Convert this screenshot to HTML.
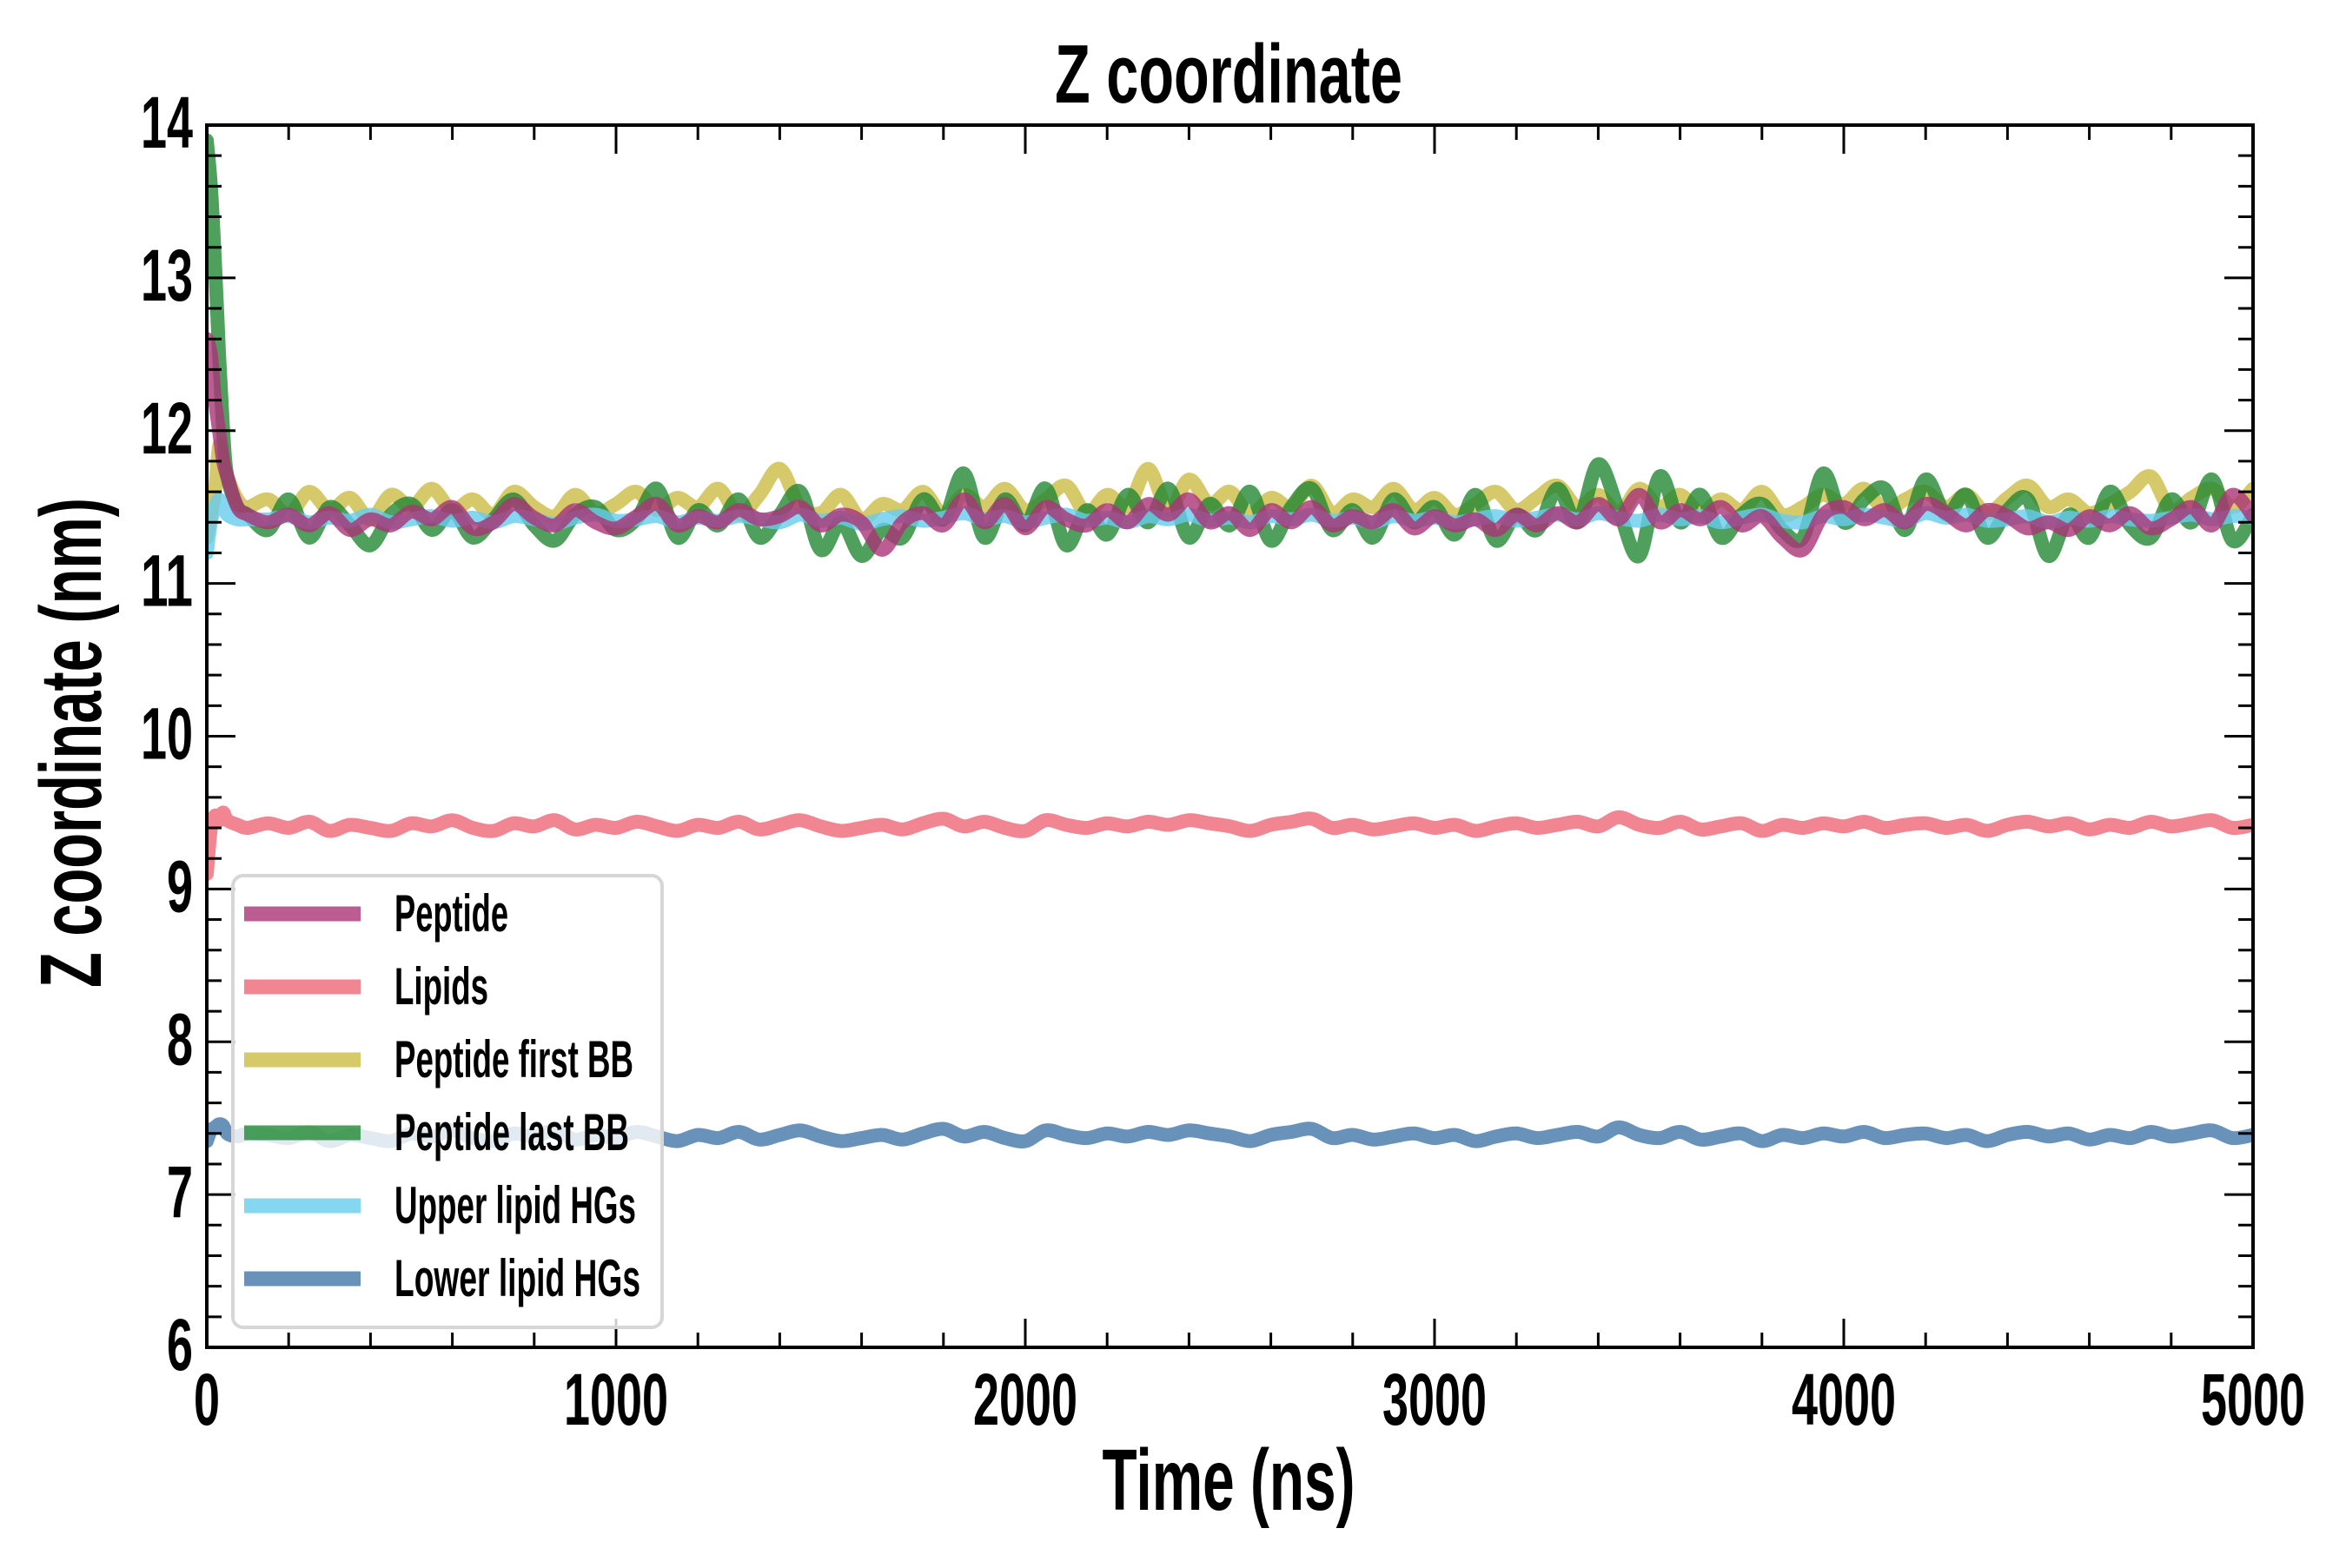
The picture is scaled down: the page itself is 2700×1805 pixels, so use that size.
<!DOCTYPE html>
<html><head><meta charset="utf-8"><style>
html,body{margin:0;padding:0;background:#fff;}
svg text{font-family:"Liberation Sans Narrow","Liberation Sans",sans-serif;font-weight:bold;fill:#000;}
</style></head><body>
<svg id="chart" width="2700" height="1800" viewBox="0 0 2700 1800" xmlns="http://www.w3.org/2000/svg">
<rect width="2700" height="1800" fill="#fff"/>
<g id="lines"></g>
<g id="axes"></g>
<g id="legend"></g>
</svg>
<script>
const times = [0,10,20,30,40,50,75,100,150,200,250,300,350,400,450,500,550,600,650,700,750,800,850,900,950,1000,1050,1100,1150,1200,1250,1300,1350,1400,1450,1500,1550,1600,1650,1700,1750,1800,1850,1900,1950,2000,2050,2100,2150,2200,2250,2300,2350,2400,2450,2500,2550,2600,2650,2700,2750,2800,2850,2900,2950,3000,3050,3100,3150,3200,3250,3300,3350,3400,3450,3500,3550,3600,3650,3700,3750,3800,3850,3900,3950,4000,4050,4100,4150,4200,4250,4300,4350,4400,4450,4500,4550,4600,4650,4700,4750,4800,4850,4900,4950,5000];
const peptide = [12.6,12.5,12.2,12.0,11.8,11.7,11.5,11.45,
11.40,11.45,11.38,11.46,11.35,11.42,11.38,11.47,11.42,11.50,
11.36,11.40,11.52,11.43,11.38,11.48,11.40,11.36,11.44,11.52,
11.38,11.44,11.40,11.48,11.42,11.44,11.50,11.38,11.45,11.40,
11.22,11.40,11.46,11.38,11.55,11.40,11.52,11.36,11.50,11.42,
11.38,11.48,11.40,11.52,11.45,11.55,11.40,11.46,11.35,11.48,
11.40,11.50,11.38,11.44,11.40,11.48,11.36,11.44,11.38,11.42,
11.35,11.45,11.38,11.46,11.40,11.52,11.42,11.58,11.40,11.48,
11.42,11.50,11.38,11.44,11.30,11.22,11.45,11.50,11.42,11.48,
11.40,11.52,11.46,11.38,11.48,11.44,11.36,11.40,11.35,11.44,
11.38,11.46,11.36,11.42,11.50,11.38,11.58,11.44];
const firstBB = [11.3,11.45,11.6,11.9,11.8,11.7,11.55,11.5,
11.55,11.45,11.60,11.48,11.56,11.42,11.58,11.50,11.62,11.48,
11.55,11.45,11.60,11.50,11.44,11.58,11.46,11.52,11.60,11.48,
11.56,11.50,11.62,11.45,11.58,11.75,11.50,11.46,11.58,11.42,
11.52,11.48,11.60,11.45,11.58,11.50,11.62,11.48,11.55,11.64,
11.46,11.58,11.50,11.75,11.48,11.68,11.52,11.60,11.45,11.56,
11.50,11.64,11.46,11.55,11.50,11.62,11.48,11.56,11.45,11.52,
11.60,11.48,11.56,11.64,11.50,11.58,11.46,11.62,11.50,11.58,
11.46,11.55,11.48,11.60,11.45,11.50,11.58,11.52,11.62,11.48,
11.55,11.60,11.50,11.58,11.46,11.56,11.64,11.50,11.55,11.46,
11.52,11.60,11.70,11.48,11.56,11.62,11.50,11.62];
const lastBB = [13.9,13.6,13.1,12.5,12.0,11.7,11.5,11.45,
11.35,11.55,11.30,11.50,11.38,11.25,11.45,11.52,11.35,11.48,
11.30,11.42,11.55,11.38,11.28,11.45,11.50,11.35,11.42,11.62,
11.30,11.48,11.38,11.55,11.30,11.45,11.60,11.22,11.40,11.18,
11.35,11.30,11.55,11.42,11.72,11.30,11.55,11.38,11.62,11.25,
11.48,11.32,11.58,11.40,11.62,11.30,11.52,11.38,11.60,11.28,
11.50,11.62,11.35,11.48,11.30,11.55,11.40,11.50,11.32,11.58,
11.28,11.45,11.35,11.62,11.40,11.78,11.48,11.18,11.70,11.40,
11.58,11.30,11.45,11.52,11.35,11.30,11.72,11.40,11.55,11.62,
11.35,11.68,11.45,11.58,11.30,11.48,11.55,11.18,11.45,11.30,
11.60,11.38,11.30,11.55,11.40,11.68,11.28,11.45];
const upperHG = [11.2,11.4,11.5,11.55,11.5,11.45,11.42,11.42,
11.42,11.44,11.40,11.43,11.41,11.45,11.40,11.42,11.44,11.41,
11.43,11.40,11.44,11.42,11.39,11.43,11.45,11.41,11.42,11.44,
11.40,11.43,11.41,11.44,11.42,11.40,11.45,11.41,11.43,11.39,
11.42,11.44,11.41,11.43,11.46,11.42,11.44,11.40,11.43,11.45,
11.41,11.43,11.40,11.44,11.42,11.45,11.41,11.43,11.40,11.44,
11.42,11.45,11.41,11.43,11.40,11.44,11.41,11.43,11.40,11.42,
11.44,11.41,11.43,11.45,11.42,11.46,11.43,11.41,11.45,11.42,
11.44,11.40,11.43,11.45,11.41,11.40,11.44,11.42,11.45,11.43,
11.41,11.46,11.43,11.45,11.41,11.42,11.44,11.40,11.43,11.41,
11.44,11.42,11.41,11.43,11.45,11.42,11.44,11.43];
const lipids = [9.1,9.4,9.48,9.45,9.5,9.45,9.42,9.40,
9.43,9.40,9.44,9.38,9.42,9.40,9.38,9.43,9.41,9.45,
9.40,9.38,9.43,9.41,9.45,9.39,9.42,9.40,9.44,9.41,
9.38,9.42,9.40,9.44,9.39,9.42,9.45,9.41,9.38,9.40,
9.42,9.39,9.43,9.46,9.41,9.44,9.40,9.38,9.45,9.42,
9.40,9.43,9.41,9.44,9.42,9.45,9.43,9.41,9.38,9.42,
9.44,9.46,9.40,9.42,9.39,9.41,9.43,9.40,9.42,9.38,
9.41,9.43,9.40,9.42,9.44,9.41,9.47,9.42,9.40,9.44,
9.39,9.41,9.43,9.38,9.42,9.40,9.43,9.41,9.44,9.40,
9.42,9.43,9.40,9.42,9.38,9.42,9.44,9.41,9.43,9.39,
9.42,9.40,9.44,9.41,9.43,9.45,9.40,9.42];
const lowerHG = [7.35,7.42,7.44,7.46,7.45,7.40,7.38,7.40,
7.39,7.37,7.41,7.35,7.39,7.37,7.35,7.40,7.38,7.42,
7.37,7.35,7.40,7.38,7.42,7.36,7.39,7.37,7.41,7.38,
7.35,7.39,7.37,7.41,7.36,7.39,7.42,7.38,7.35,7.37,
7.39,7.36,7.40,7.43,7.38,7.41,7.37,7.35,7.42,7.39,
7.37,7.40,7.38,7.41,7.39,7.42,7.40,7.38,7.35,7.39,
7.41,7.43,7.37,7.39,7.36,7.38,7.40,7.37,7.39,7.35,
7.38,7.40,7.37,7.39,7.41,7.38,7.44,7.39,7.37,7.41,
7.36,7.38,7.40,7.35,7.39,7.37,7.40,7.38,7.41,7.37,
7.39,7.40,7.37,7.39,7.35,7.39,7.41,7.38,7.40,7.36,
7.39,7.37,7.41,7.38,7.40,7.42,7.37,7.39];
const xTicks = [0,1000,2000,3000,4000,5000];
const yTicks = [6,7,8,9,10,11,12,13,14];
const legendLabels = ["Peptide","Lipids","Peptide first BB","Peptide last BB","Upper lipid HGs","Lower lipid HGs"];

const NS = "http://www.w3.org/2000/svg";
const L = 238, R = 2593, T = 144, B = 1551;
const xMin = 0, xMax = 5000, yMin = 6, yMax = 14;
function xs(v){ return L + (v - xMin) / (xMax - xMin) * (R - L); }
function ys(v){ return B - (v - yMin) / (yMax - yMin) * (B - T); }
function mk(tag, attrs, parent){
  const e = document.createElementNS(NS, tag);
  for (const k in attrs) e.setAttribute(k, attrs[k]);
  parent.appendChild(e);
  return e;
}
function smoothPath(pts){
  let d = 'M' + pts[0][0].toFixed(1) + ' ' + pts[0][1].toFixed(1);
  for (let i = 0; i < pts.length - 1; i++) {
    const p0 = pts[Math.max(0, i-1)], p1 = pts[i], p2 = pts[i+1], p3 = pts[Math.min(pts.length-1, i+2)];
    const c1x = p1[0] + (p2[0]-p0[0])/6, c1y = p1[1] + (p2[1]-p0[1])/6;
    const c2x = p2[0] - (p3[0]-p1[0])/6, c2y = p2[1] - (p3[1]-p1[1])/6;
    d += ' C' + c1x.toFixed(1) + ' ' + c1y.toFixed(1) + ' ' + c2x.toFixed(1) + ' ' + c2y.toFixed(1) + ' ' + p2[0].toFixed(1) + ' ' + p2[1].toFixed(1);
  }
  return d;
}
const linesG = document.getElementById('lines');
const axesG = document.getElementById('axes');
const legG = document.getElementById('legend');

const seriesList = [
  {name:'peptide-first-bb-line', data:firstBB, color:'#CCBB44'},
  {name:'peptide-last-bb-line', data:lastBB, color:'#228833'},
  {name:'upper-lipid-hgs-line', data:upperHG, color:'#66CCEE'},
  {name:'lipids-line', data:lipids, color:'#EE6677'},
  {name:'lower-lipid-hgs-line', data:lowerHG, color:'#4477AA'},
  {name:'peptide-line', data:peptide, color:'#AA3377'}
];
const clip = mk('clipPath', {id:'plotclip'}, linesG);
mk('rect', {x:L, y:T, width:R-L, height:B-T}, clip);
seriesList.forEach(s => {
  const pts = s.data.map((v,i) => [xs(times[i]), ys(v)]);
  const p = mk('path', {d:smoothPath(pts), fill:'none', stroke:s.color, 'stroke-opacity':0.8, 'stroke-width':16, 'stroke-linejoin':'round', 'stroke-linecap':'round', 'clip-path':'url(#plotclip)'}, linesG);
  
  
});

const frame = mk('rect', {x:L, y:T, width:R-L, height:B-T, fill:'none', stroke:'#000', 'stroke-width':4}, axesG);



for (let v = 0; v <= 5000; v += 200) {
  const major = v % 1000 === 0;
  const len = major ? 33 : 17;
  const x = xs(v);
  const t1 = mk('line', {x1:x, y1:B, x2:x, y2:B-len, stroke:'#000', 'stroke-width':3}, axesG);
  
  
  const t2 = mk('line', {x1:x, y1:T, x2:x, y2:T+len, stroke:'#000', 'stroke-width':3}, axesG);
  
  
}
xTicks.forEach(v => {
  const s = String(v);
  const t = mk('text', {x:xs(v), y:1640, 'font-size':84, 'text-anchor':'middle', textLength:s.length*30, lengthAdjust:'spacingAndGlyphs'}, axesG);
  t.textContent = s;
  
  
});
for (let k = 0; k <= 40; k++) {
  const v = 6 + k * 0.2;
  const major = k % 5 === 0;
  const len = major ? 33 : 17;
  const y = ys(v);
  const t1 = mk('line', {x1:L, y1:y, x2:L+len, y2:y, stroke:'#000', 'stroke-width':3}, axesG);
  
  
  const t2 = mk('line', {x1:R, y1:y, x2:R-len, y2:y, stroke:'#000', 'stroke-width':3}, axesG);
  
  
}
yTicks.forEach(v => {
  const s = String(v);
  const t = mk('text', {x:222, y:ys(v)+26, 'font-size':84, 'text-anchor':'end', textLength:s.length*30, lengthAdjust:'spacingAndGlyphs'}, axesG);
  t.textContent = s;
  
  
});
const title = mk('text', {x:1414, y:118, 'font-size':96, 'text-anchor':'middle', textLength:400, lengthAdjust:'spacingAndGlyphs'}, axesG);
title.textContent = 'Z coordinate';


const xl = mk('text', {x:1414, y:1738, 'font-size':100, 'text-anchor':'middle', textLength:291, lengthAdjust:'spacingAndGlyphs'}, axesG);
xl.textContent = 'Time (ns)';


const yl = mk('text', {x:0, y:0, 'font-size':100, 'text-anchor':'middle', textLength:564, lengthAdjust:'spacingAndGlyphs', transform:'translate(116,855) rotate(-90)'}, axesG);
yl.textContent = 'Z coordinate (nm)';



const lbox = mk('rect', {x:268, y:1008, width:494, height:520, rx:12, fill:'#fff', 'fill-opacity':0.8, stroke:'#d6d6d6', 'stroke-width':4}, legG);


const legColors = ['#AA3377','#EE6677','#CCBB44','#228833','#66CCEE','#4477AA'];
const legWidths = [131,108,275,270,278,283];
legendLabels.forEach((lab, i) => {
  const y = 1052 + i * 84;
  const g = mk('g', {}, legG);
  
  
  const ln = mk('line', {x1:281, y1:y, x2:415, y2:y, stroke:legColors[i], 'stroke-opacity':0.8, 'stroke-width':17}, g);
  
  
  const t = mk('text', {x:454, y:y+20, 'font-size':60, textLength:legWidths[i], lengthAdjust:'spacingAndGlyphs'}, g);
  t.textContent = lab;
  
  
});
</script>
</body></html>
